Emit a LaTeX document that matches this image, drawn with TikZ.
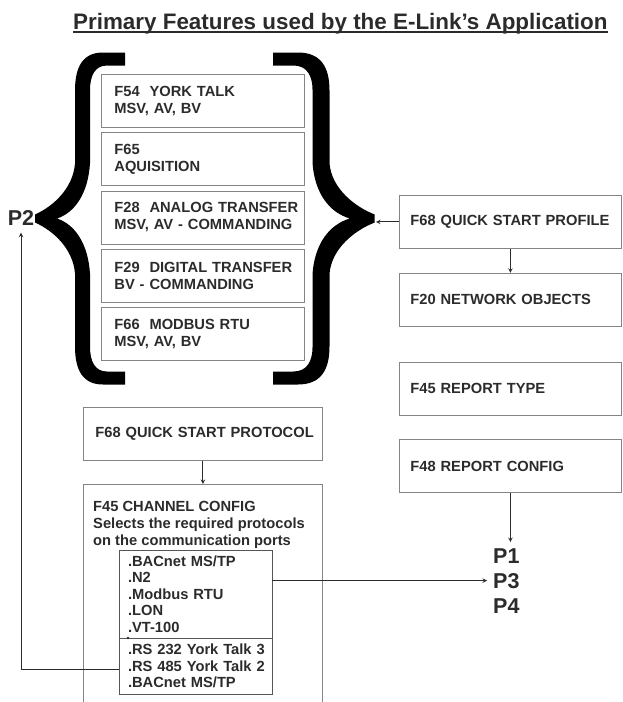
\documentclass[tikz,border=0pt]{standalone}
\usepackage{fontspec}
\setmainfont{Liberation Sans}
\usetikzlibrary{arrows,positioning}
\definecolor{inkc}{HTML}{2B2B2B}
\definecolor{boxgray}{HTML}{858585}
\exhyphenpenalty=10000
\hyphenpenalty=10000
\newcommand\featfont{\fontsize{14.7}{17}\selectfont\bfseries}
\newcommand\lstfont{\fontsize{14.7}{16.5}\selectfont\bfseries}
\newcommand\ttlfont{\fontsize{22.4}{26}\selectfont\bfseries}
\newcommand\portfont{\fontsize{21.5}{25}\selectfont\bfseries}
\tikzset{
  curly/.pic={
    \fill[black] (0,-166) -- (-22,-166) .. controls (-42,-166) and (-50,-152) .. (-50,-128) -- (-50,-55) .. controls (-52,-30) and (-72,-12) .. (-90,-4) -- (-90,4) .. controls (-72,12) and (-52,30) .. (-50,55) -- (-50,128) .. controls (-50,152) and (-42,166) .. (-22,166) -- (0,166) -- (0,153) -- (-18,153) .. controls (-30,153) and (-35,143) .. (-35,128) -- (-35,55) .. controls (-37,25) and (-50,6) .. (-68,0) .. controls (-50,-6) and (-37,-25) .. (-35,-55) -- (-35,-128) .. controls (-35,-143) and (-30,-153) .. (-18,-153) -- (0,-153) -- cycle;
  },
  feat/.style={draw=boxgray, line width=0.8pt, font=\featfont, text=inkc, align=left,
    inner xsep=13pt, inner ysep=0pt, text width=177pt, minimum height=53pt},
  rfeat/.style={feat, inner xsep=11pt, text width=200pt},
  lst/.style={feat, font=\lstfont, draw=inkc!80, inner xsep=9pt, text width=135pt, outer sep=0pt},
  port/.style={font=\portfont, text=inkc, inner sep=0pt},
  arr/.style={-stealth, line width=1pt, draw=inkc}
}
\begin{document}
\begin{tikzpicture}[x=1pt,y=-1pt]
\useasboundingbox (0,0) rectangle (623,702);
\node[anchor=base west, inner sep=0pt, font=\ttlfont, text=inkc] (title) at (73,29) {Primary Features used by the E-Link’s Application};
\draw[line width=1.6pt, inkc] ([yshift=-3pt]title.base west) -- ([yshift=-3pt]title.base east);

% feature stack inside the braces
\node[feat, anchor=north west] (f54) at (101,74) {F54~~YORK~TALK\\MSV, AV, BV};
\node[feat, below=4.5pt of f54] (f65) {F65\\AQUISITION};
\node[feat, below=4.5pt of f65] (f28) {F28~~ANALOG~TRANSFER\\MSV,~AV~-~COMMANDING};
\node[feat, below=4.5pt of f28] (f29) {F29~~DIGITAL~TRANSFER\\BV~-~COMMANDING};
\node[feat, below=4.5pt of f29] (f66) {F66~~MODBUS~RTU\\MSV, AV, BV};
\pic at (125,218.5) {curly};
\pic[xscale=-1.13] at (273,218.5) {curly};
\coordinate (rtip) at (376,218.5);
\node[port] (ptwo) at (21,218) {P2};

% right column
\node[rfeat, anchor=north west] (qsprof) at (399,195) {F68~QUICK~START~PROFILE};
\node[rfeat, below=24pt of qsprof] (netobj) {F20~NETWORK~OBJECTS};
\node[rfeat, below=35pt of netobj] (reptype) {F45 REPORT TYPE};
\node[rfeat, below=24pt of reptype] (repcfg) {F48 REPORT CONFIG};
\node[port, anchor=base west] (pone) at (493,563) {P1};
\node[port, anchor=base west] (pthree) at (493,588) {P3};
\node[port, anchor=base west] (pfour) at (493,613) {P4};

% protocol part
\node[feat, anchor=north west, inner xsep=12pt, text width=215pt] (qsprot) at (83,407) {F68~QUICK~START~PROTOCOL};
\node[draw=boxgray, line width=0.8pt, anchor=north west, minimum width=239pt, minimum height=240pt, inner sep=0pt] (chan) at (83,484) {};
\node[anchor=north west, inner sep=0pt, font=\featfont, text=inkc, align=left] (chantxt) at (93,501) {F45 CHANNEL CONFIG\\Selects the required protocols\\on the communication ports};
\node[lst, anchor=north west, minimum width=153pt, minimum height=88pt] (proto) at (119,550) {.BACnet MS/TP\\.N2\\.Modbus RTU\\.LON\\.VT-100};
\node[lst, below=0pt of proto, minimum height=56pt] (wired) {.RS~232~York~Talk~3\\.RS~485~York~Talk~2\\.BACnet MS/TP};
\fill[inkc] ([xshift=9pt]wired.north west) circle (1.3pt);

\draw[arr] (qsprof.west) -- (qsprof.west -| rtip);
\draw[arr] (qsprof.south) -- (netobj.north);
\draw[arr] (repcfg.south) -- ([yshift=6pt]repcfg.south |- pone.north);
\draw[arr] (qsprot.south) -- (chan.north);
\draw[arr] (proto.east |- pthree.west) -- ([xshift=-6pt]pthree.west);
\draw[arr] ([yshift=-3pt]wired.west) -| ([yshift=-7pt]ptwo.south);
\end{tikzpicture}
\end{document}
